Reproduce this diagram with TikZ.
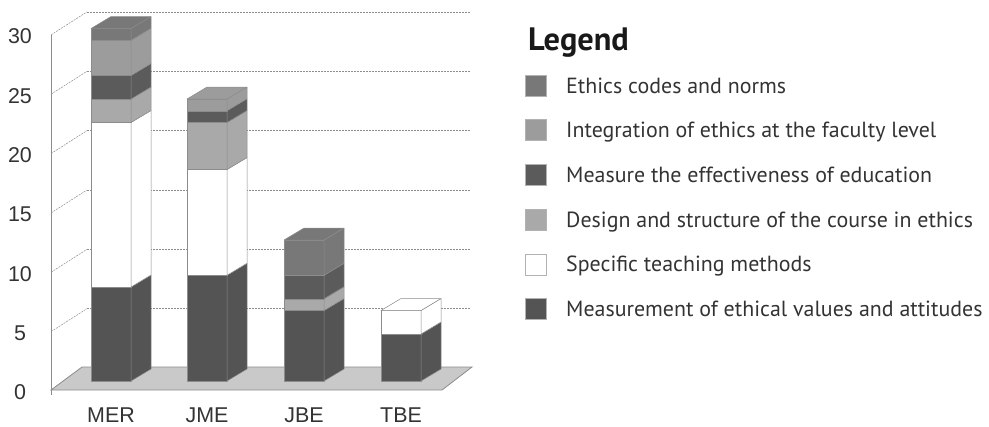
\documentclass[tikz,border=0pt]{standalone}
\usepackage{fontspec}
\setmainfont{Liberation Sans}
\newfontfamily\legendfont{PT Sans}

\definecolor{codes}{HTML}{787878}
\definecolor{integ}{HTML}{9C9C9C}
\definecolor{effect}{HTML}{5B5B5B}
\definecolor{design}{HTML}{A9A9A9}
\definecolor{teach}{HTML}{FFFFFF}
\definecolor{values}{HTML}{545454}
\definecolor{floorgray}{HTML}{C9C9C9}
\definecolor{edgegray}{HTML}{8C8C8C}
\definecolor{labelgray}{HTML}{333333}

% one layer of a stacked bar: x, from, to, colour
\newcommand{\Layer}[4]{%
	\filldraw[barStyle, fill=#4] (#1,{381-11.75*#2}) rectangle ({#1+40},{381-11.75*#3});
	\filldraw[barStyle, fill=#4] ({#1+40},{381-11.75*#2}) -- ({#1+60},{369-11.75*#2}) -- ({#1+60},{369-11.75*#3}) -- ({#1+40},{381-11.75*#3}) -- cycle;
}
% lid on top of a bar: x, value, colour
\newcommand{\Lid}[3]{%
	\filldraw[barStyle, fill=#3] (#1,{381-11.75*#2}) -- ({#1+20},{369-11.75*#2}) -- ({#1+60},{369-11.75*#2}) -- ({#1+40},{381-11.75*#2}) -- cycle;
}

\begin{document}
\begin{tikzpicture}[x = 1bp, y = -1bp]
	\tikzset{gridStyle/.style = {draw = black!45, line width = 0.5bp, dash pattern = on 2bp off 1bp}}
	\tikzset{barStyle/.style = {draw = black!45, line width = 0.5bp, line join = round}}
	\tikzset{tickLabel/.style = {inner sep = 0pt, text = labelgray, font = \fontsize{21.5}{24}\selectfont}}
	\tikzset{keyBox/.style = {draw = black!30, line width = 0.5bp, minimum size = 21bp, inner sep = 0pt}}
	\tikzset{keyText/.style = {inner sep = 0pt, text = labelgray, font = \legendfont\fontsize{22}{26}\selectfont}}
	\useasboundingbox (0,0) rectangle (989,426);
	% back wall and side wall
	\foreach \v in {5,10,...,30}{
		\draw[gridStyle] (87,{368-11.87*\v}) -- (470,{368-11.87*\v});
		\draw[gridStyle] (51,{391-11.87*\v}) -- (87,{368-11.87*\v});
	}
	\draw[edgegray, line width = 0.8bp] (51,35) -- (51,395);
	% floor
	\filldraw[fill = floorgray, draw = edgegray, line width = 0.8bp] (51,390) -- (442,390) -- (472,367) -- (82,367) -- cycle;
	% MER
	\Layer{91}{0}{8}{values}
	\Layer{91}{8}{22}{teach}
	\Layer{91}{22}{24}{design}
	\Layer{91}{24}{26}{effect}
	\Layer{91}{26}{29}{integ}
	\Layer{91}{29}{30}{codes}
	\Lid{91}{30}{codes}
	% JME
	\Layer{187}{0}{9}{values}
	\Layer{187}{9}{18}{teach}
	\Layer{187}{18}{22}{design}
	\Layer{187}{22}{23}{effect}
	\Layer{187}{23}{24}{integ}
	\Lid{187}{24}{integ}
	% JBE
	\Layer{284}{0}{6}{values}
	\Layer{284}{6}{7}{design}
	\Layer{284}{7}{9}{effect}
	\Layer{284}{9}{12}{codes}
	\Lid{284}{12}{codes}
	% TBE
	\Layer{381}{0}{4}{values}
	\Layer{381}{4}{6}{teach}
	\Lid{381}{6}{teach}
	% axis labels
	\foreach \v in {0,5,...,30}
		\node[tickLabel] (y\v) at (20,{392.5-11.87*\v}) {\v};
	\node[tickLabel, anchor = base] (xMER) at (111,422) {MER};
	\node[tickLabel, anchor = base] (xJME) at (207,422) {JME};
	\node[tickLabel, anchor = base] (xJBE) at (304,422) {JBE};
	\node[tickLabel, anchor = base] (xTBE) at (401,422) {TBE};
	% legend
	\node[anchor = base west, inner sep = 0pt, text = black!90, font = \legendfont\bfseries\fontsize{32.5}{36}\selectfont] (legend) at (528,50) {Legend};
	\foreach \col/\txt [count = \i] in {codes/Ethics codes and norms, integ/Integration of ethics at the faculty level, effect/Measure the effectiveness of education, design/Design and structure of the course in ethics, teach/Specific teaching methods, values/Measurement of ethical values and attitudes}{
		\node[keyBox, fill = \col] (key\i) at (535.5,{85.5+44.7*(\i-1)}) {};
		\node[keyText, anchor = base west] (txt\i) at (566,{93+44.7*(\i-1)}) {\txt};
	}
\end{tikzpicture}
\end{document}
